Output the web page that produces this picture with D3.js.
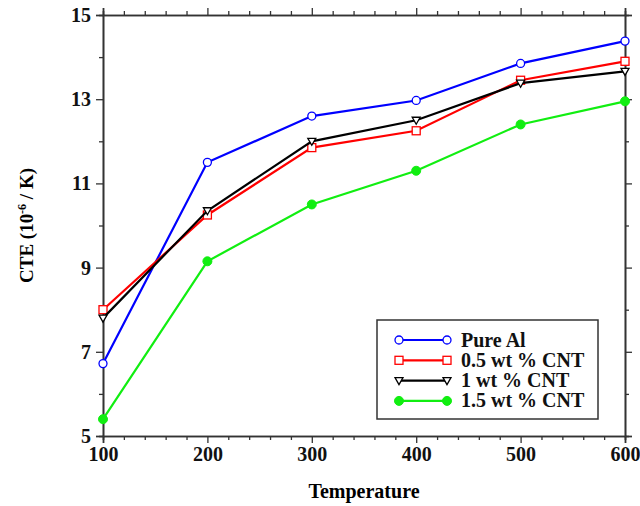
<!DOCTYPE html>
<html>
<head>
<meta charset="utf-8">
<script src="https://cdn.jsdelivr.net/npm/d3@7"></script>
<style>
  body { margin: 0; background: #fff; }
  text { font-family: "Liberation Serif", "Times New Roman", serif; font-weight: bold; }
</style>
</head>
<body>
<div id="chart"></div>
<script>
// temperatures and CTE values
var temps = [100, 200, 300, 400, 500, 600];
var pureAl = [6.72, 11.5, 12.6, 12.97, 13.85, 14.38];
var cnt05 = [8.0, 10.25, 11.85, 12.25, 13.45, 13.9];
var cnt1 = [7.8, 10.35, 12.0, 12.5, 13.38, 13.66];
var cnt15 = [5.4, 9.15, 10.5, 11.3, 12.4, 12.95];
var seriesNames = ["Pure Al", "0.5 wt % CNT", "1 wt % CNT", "1.5 wt % CNT"];
var xTicks = [100, 200, 300, 400, 500, 600];
var yTicks = [5, 7, 9, 11, 13, 15];

var W = 640, H = 506;
var margin = {top: 15, right: 15, bottom: 70, left: 103};
var width = W - margin.left - margin.right,
    height = H - margin.top - margin.bottom;

var svg = d3.select("#chart").append("svg")
    .attr("width", W).attr("height", H)
  .append("g")
    .attr("transform", "translate(" + margin.left + "," + margin.top + ")");

var x = d3.scaleLinear().domain([100, 600]).range([0, width]);
var y = d3.scaleLinear().domain([5, 15]).range([height, 0]);

var axisColor = "#333";

// minor ticks
var xMinor = d3.range(100, 601, 20).filter(function (d) { return d % 100 != 0; });
var yMinor = d3.range(6, 15, 2);

function styleAxis(g) {
    g.selectAll("path").attr("stroke", axisColor).attr("stroke-width", 1.6);
    g.selectAll("line").attr("stroke", axisColor).attr("stroke-width", 1.3);
    g.selectAll("text").attr("fill", "#111").style("font-size", "20px");
}

svg.append("g").attr("transform", "translate(0," + height + ")")
    .call(d3.axisBottom(x).tickValues(xMinor).tickSize(4).tickFormat(""))
    .call(styleAxis);
svg.append("g").attr("transform", "translate(0," + height + ")")
    .call(d3.axisBottom(x).tickValues(xTicks).tickSize(7).tickPadding(4).tickFormat(d3.format("d")))
    .call(styleAxis);
svg.append("g")
    .call(d3.axisTop(x).tickValues(xMinor).tickSize(4).tickFormat(""))
    .call(styleAxis);
svg.append("g")
    .call(d3.axisTop(x).tickValues(xTicks).tickSize(7).tickFormat(""))
    .call(styleAxis);

svg.append("g")
    .call(d3.axisLeft(y).tickValues(yMinor).tickSize(4).tickFormat(""))
    .call(styleAxis);
svg.append("g")
    .call(d3.axisLeft(y).tickValues(yTicks).tickSize(7).tickPadding(5).tickFormat(d3.format("d")))
    .call(styleAxis);
svg.append("g").attr("transform", "translate(" + width + ",0)")
    .call(d3.axisRight(y).tickValues(yMinor).tickSize(4).tickFormat(""))
    .call(styleAxis);
svg.append("g").attr("transform", "translate(" + width + ",0)")
    .call(d3.axisRight(y).tickValues(yTicks).tickSize(7).tickFormat(""))
    .call(styleAxis);

// axis titles
svg.append("text")
    .attr("x", width / 2)
    .attr("y", height + 62)
    .attr("text-anchor", "middle")
    .style("font-size", "20px")
    .text("Temperature");

var yl = svg.append("text")
    .attr("transform", "translate(" + (-70) + "," + (height / 2) + ") rotate(-90)")
    .attr("text-anchor", "middle")
    .style("font-size", "19px");
yl.append("tspan").text("CTE (10");
yl.append("tspan").attr("dy", -7).style("font-size", "12px").text("-6");
yl.append("tspan").attr("dy", 7).text(" / K)");

// series
var series = [
    {name: seriesNames[0], vals: pureAl, color: "#0000ff", marker: "circle"},
    {name: seriesNames[1], vals: cnt05, color: "#ff0000", marker: "square"},
    {name: seriesNames[2], vals: cnt1, color: "#000000", marker: "triangle"},
    {name: seriesNames[3], vals: cnt15, color: "#11ee11", marker: "dot"}
];

var line = d3.line()
    .x(function (d) { return x(d[0]); })
    .y(function (d) { return y(d[1]); });

function drawMarker(g, type, color) {
    if (type == "circle") {
        g.append("circle").attr("r", 4).attr("fill", "#fff").attr("stroke", color).attr("stroke-width", 1.3);
    } else if (type == "square") {
        g.append("rect").attr("x", -4).attr("y", -4).attr("width", 8).attr("height", 8)
            .attr("fill", "#fff").attr("stroke", color).attr("stroke-width", 1.3);
    } else if (type == "triangle") {
        g.append("path").attr("d", "M-4,-3L4,-3L0,4Z")
            .attr("fill", "#fff").attr("stroke", color).attr("stroke-width", 1.3);
    } else {
        g.append("circle").attr("r", 4.5).attr("fill", color).attr("stroke", color);
    }
}

series.forEach(function (s) {
    var pts = temps.map(function (t, i) { return [t, s.vals[i]]; });
    svg.append("path")
        .datum(pts)
        .attr("d", line)
        .attr("fill", "none")
        .attr("stroke", s.color)
        .attr("stroke-width", 2.2);
    pts.forEach(function (p) {
        var g = svg.append("g").attr("transform", "translate(" + x(p[0]) + "," + y(p[1]) + ")");
        drawMarker(g, s.marker, s.color);
    });
});

// legend
var lx = 377 - margin.left, ly = 320 - margin.top;
svg.append("rect")
    .attr("x", lx).attr("y", ly)
    .attr("width", 221).attr("height", 99)
    .attr("fill", "#fff").attr("stroke", axisColor).attr("stroke-width", 1.5);

series.forEach(function (s, i) {
    var yy = ly + 20 + i * 20.3;
    svg.append("line")
        .attr("x1", lx + 22).attr("x2", lx + 70)
        .attr("y1", yy).attr("y2", yy)
        .attr("stroke", s.color).attr("stroke-width", 2.2);
    [lx + 22, lx + 70].forEach(function (mx) {
        var g = svg.append("g").attr("transform", "translate(" + mx + "," + yy + ")");
        drawMarker(g, s.marker, s.color);
    });
    svg.append("text")
        .attr("x", lx + 84).attr("y", yy + 6.5)
        .style("font-size", "20px")
        .attr("fill", "#111")
        .text(s.name);
});
</script>
</body>
</html>
